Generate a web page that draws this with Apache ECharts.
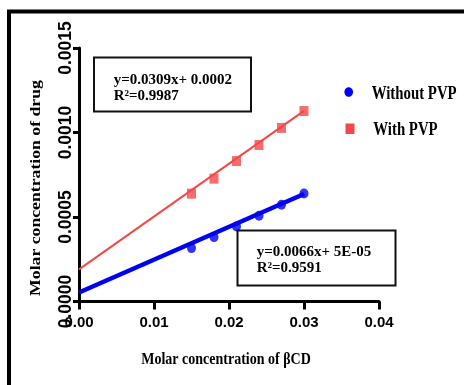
<!DOCTYPE html>
<html>
<head>
<meta charset="utf-8">
<script src="https://cdn.jsdelivr.net/npm/echarts@6/dist/echarts.min.js"></script>
<style>
  html, body { margin: 0; padding: 0; background: #fff; }
  #chart { width: 464px; height: 385px; }
</style>
</head>
<body>
<div id="chart"></div>
<script>
// beta-CD concentration (x) and drug concentration (y)
const betaCD = [0.015, 0.018, 0.021, 0.024, 0.027, 0.030]
const withoutPVP = [0.000316, 0.000381, 0.000444, 0.000507, 0.000573, 0.000639]
const withPVP = [0.000638, 0.000727, 0.000831, 0.000926, 0.001027, 0.001127]

// fitted lines, endpoints as drawn
const fitWithoutPVP = [[0, 0.000053], [0.030, 0.000636]]
const fitWithPVP = [[0, 0.00019], [0.030, 0.001128]]

const xTicks = [0, 0.01, 0.02, 0.03, 0.04]
const yTicks = [0, 0.0005, 0.0010, 0.0015]

const eqWithPVP = ['y=0.0309x+ 0.0002', 'R²=0.9987']
const eqWithoutPVP = ['y=0.0066x+ 5E-05', 'R²=0.9591']

const chart = echarts.init(document.getElementById('chart'), null, { renderer: 'canvas' })

const sans = "'Liberation Sans', Arial, sans-serif"
const serif = "'Liberation Serif', 'DejaVu Serif', serif"
const RED = '#f44848'
const BLUE = '#0000f5'

const pts = (ys) => betaCD.map((x, i) => [x, ys[i]])

function eqBox(x, y, w, h, lines, tx, ty) {
  return [
    { type: 'rect', z: 10, shape: { x, y, width: w, height: h },
      style: { fill: '#fff', stroke: '#111', lineWidth: 2 } },
    { type: 'text', z: 11, x: tx, y: ty,
      style: { text: lines[0], font: 'bold 15px ' + serif, fill: '#000', verticalAlign: 'middle' } },
    { type: 'text', z: 11, x: tx, y: ty + 16,
      style: { text: lines[1], font: 'bold 15px ' + serif, fill: '#000', verticalAlign: 'middle' } },
  ]
}

chart.setOption({
  animation: false,
  grid: { left: 79, top: 48, width: 300, height: 253.5 },
  xAxis: {
    type: 'value',
    min: xTicks[0],
    max: xTicks[xTicks.length - 1],
    interval: 0.01,
    axisLine: { lineStyle: { color: '#000', width: 3 } },
    axisTick: { length: 8, lineStyle: { color: '#000', width: 3 } },
    axisLabel: {
      margin: 14, color: '#000', fontWeight: 'bold', fontSize: 15, fontFamily: sans,
      formatter: (v) => v.toFixed(2),
    },
    splitLine: { show: false },
  },
  yAxis: {
    type: 'value',
    min: yTicks[0],
    max: yTicks[yTicks.length - 1],
    interval: 0.0005,
    axisLine: { lineStyle: { color: '#000', width: 3 } },
    axisTick: { length: 6, lineStyle: { color: '#000', width: 3 } },
    axisLabel: {
      rotate: 90, margin: 4, color: '#000', fontWeight: 'bold', fontSize: 17.5, fontFamily: sans,
      formatter: (v) => v.toFixed(4),
    },
    splitLine: { show: false },
  },
  series: [
    {
      name: 'fit with PVP', type: 'line', data: fitWithPVP, symbol: 'none',
      lineStyle: { color: RED, width: 2 }, z: 2,
    },
    {
      name: 'fit without PVP', type: 'line', data: fitWithoutPVP, symbol: 'none',
      lineStyle: { color: BLUE, width: 4.5 }, z: 2,
    },
    {
      name: 'With PVP', type: 'scatter', data: pts(withPVP),
      symbol: 'rect', symbolSize: [9, 10], itemStyle: { color: RED }, z: 3,
    },
    {
      name: 'Without PVP', type: 'scatter', data: pts(withoutPVP),
      symbol: 'circle', symbolSize: [9, 10], itemStyle: { color: BLUE }, z: 3,
    },
  ],
  graphic: [
    // outer frame
    { type: 'rect', shape: { x: 9, y: 11.5, width: 520, height: 420 },
      style: { fill: null, stroke: '#000', lineWidth: 4 } },
    // axis titles
    { type: 'text', x: 226, y: 359, scaleX: 0.8,
      style: { text: 'Molar concentration of βCD', font: 'bold 17.5px ' + serif, fill: '#000',
               align: 'center', verticalAlign: 'middle' } },
    { type: 'text', x: 36, y: 188, rotation: Math.PI / 2, scaleX: 1.18,
      style: { text: 'Molar concentration of drug', font: 'bold 15px ' + serif, fill: '#000',
               align: 'center', verticalAlign: 'middle' } },
    // legend
    { type: 'ellipse', shape: { cx: 348.7, cy: 92, rx: 4.3, ry: 4.8 }, style: { fill: BLUE } },
    { type: 'rect', shape: { x: 345.5, y: 123.5, width: 9, height: 10.5 }, style: { fill: RED } },
    { type: 'text', x: 371.7, y: 93.7, scaleX: 0.78,
      style: { text: 'Without PVP', font: 'bold 19px ' + serif, fill: '#000', verticalAlign: 'middle' } },
    { type: 'text', x: 373.3, y: 129.7, scaleX: 0.78,
      style: { text: 'With PVP', font: 'bold 19px ' + serif, fill: '#000', verticalAlign: 'middle' } },
    // equation boxes
    ...eqBox(94, 57.5, 157, 54, eqWithPVP, 113.7, 80),
    ...eqBox(237.5, 230.5, 158, 55, eqWithoutPVP, 256.7, 252),
  ],
})
</script>
</body>
</html>
